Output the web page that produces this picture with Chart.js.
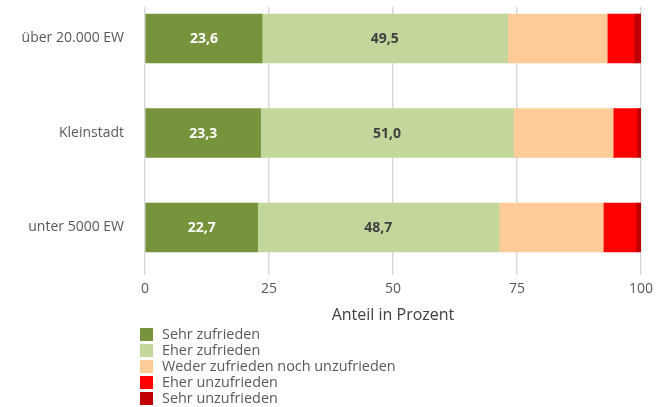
<!DOCTYPE html>
<html lang="de">
<head>
  <meta charset="UTF-8">
  <title>Zufriedenheit nach Gemeindegröße</title>
  <script src="https://cdn.jsdelivr.net/npm/chart.js"></script>
  <style>
    body {
      margin: 0;
      background: #fff;
      font-family: 'Open Sans', sans-serif;
    }

    #wrap {
      position: relative;
      width: 668px;
      height: 407px;
    }

    #legende {
      position: absolute;
      left: 140px;
      top: 326px;
      font-size: 14.4px;
      color: #595959;
      line-height: 16px;
    }

    #legende div {
      display: flex;
      align-items: center;
      height: 16px;
    }

    #legende span.box {
      display: inline-block;
      width: 13px;
      height: 13px;
      margin-right: 9px;
    }
  </style>
</head>
<body>

  <div id="wrap">
    <canvas id="grafik" width="668" height="407"></canvas>
    <div id="legende"></div>
  </div>

  <script>
    const kategorien = ['über 20.000 EW', 'Kleinstadt', 'unter 5000 EW'];
    const stufen = ['Sehr zufrieden', 'Eher zufrieden', 'Weder zufrieden noch unzufrieden', 'Eher unzufrieden', 'Sehr unzufrieden'];
    const sehrZufrieden = [23.6, 23.3, 22.7];
    const eherZufrieden = [49.5, 51.0, 48.7];
    const wederNoch = [20.1, 20.1, 21.0];
    const eherUnzufrieden = [5.4, 4.8, 6.6];
    const sehrUnzufrieden = [1.4, 0.8, 1.0];
    const xTicks = [0, 25, 50, 75, 100];

    const farben = ['#77933C', '#C3D69B', '#FFCC99', '#FF0000', '#C00000'];
    const reihen = [sehrZufrieden, eherZufrieden, wederNoch, eherUnzufrieden, sehrUnzufrieden];

    // Werte nur für die beiden Grün-Segmente beschriften
    const beschriftung = {
      id: 'beschriftung',
      afterDatasetsDraw(chart) {
        const ctx = chart.ctx;
        ctx.save();
        ctx.font = 'bold 14px "Open Sans", sans-serif';
        ctx.textAlign = 'center';
        ctx.textBaseline = 'middle';
        [0, 1].forEach(d => {
          ctx.fillStyle = d === 0 ? '#ffffff' : '#404040';
          chart.getDatasetMeta(d).data.forEach((bar, i) => {
            const wert = reihen[d][i].toFixed(1).replace('.', ',');
            ctx.fillText(wert, (bar.x + bar.base) / 2, bar.y + 1);
          });
        });
        ctx.restore();
      }
    };

    const ctx = document.getElementById('grafik').getContext('2d');
    new Chart(ctx, {
      type: 'bar',
      data: {
        datasets: reihen.map((werte, d) => ({
          label: stufen[d],
          data: werte.map((v, i) => ({ x: v, y: i })),
          backgroundColor: farben[d],
          barThickness: 49
        }))
      },
      options: {
        indexAxis: 'y',
        responsive: false,
        animation: false,
        layout: {
          padding: { left: 0, right: 27, top: 7, bottom: 79 }
        },
        plugins: {
          legend: { display: false },
          tooltip: { enabled: false }
        },
        scales: {
          x: {
            stacked: true,
            min: 0,
            max: 100,
            afterBuildTicks: s => { s.ticks = xTicks.map(v => ({ value: v })); },
            afterFit: s => { s.height = 60; },
            border: { display: false },
            grid: { color: '#d9d9d9', lineWidth: 1.5, tickLength: 7 },
            ticks: {
              color: '#595959',
              font: { family: 'Open Sans', size: 14 },
              padding: 6
            },
            title: {
              display: true,
              text: 'Anteil in Prozent',
              color: '#404040',
              font: { family: 'Open Sans', size: 16 },
              padding: { top: 2, bottom: 3 }
            }
          },
          y: {
            type: 'linear',
            stacked: true,
            reverse: true,
            offset: false,
            min: -0.333,
            max: 2.429,
            afterBuildTicks: s => { s.ticks = kategorien.map((k, i) => ({ value: i })); },
            afterFit: s => {
              s.width = 145;
              s.paddingTop = 0;
              s.paddingBottom = 0;
            },
            border: { display: false },
            grid: { display: false },
            ticks: {
              color: '#595959',
              font: { family: 'Open Sans', size: 14 },
              padding: 13,
              callback: v => kategorien[v]
            }
          }
        }
      },
      plugins: [beschriftung]
    });

    const legende = document.getElementById('legende');
    stufen.forEach((name, d) => {
      const zeile = document.createElement('div');
      zeile.innerHTML = '<span class="box" style="background:' + farben[d] + '"></span>' + name;
      legende.appendChild(zeile);
    });
  </script>

</body>
</html>
